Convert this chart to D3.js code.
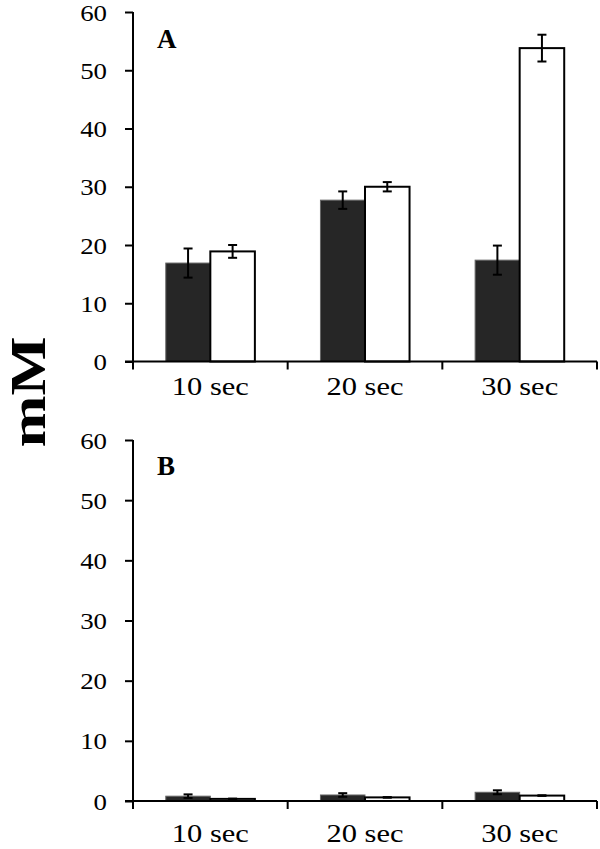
<!DOCTYPE html>
<html>
<head>
<meta charset="utf-8">
<script src="https://cdn.jsdelivr.net/npm/d3@7"></script>
<style>
  html, body { margin: 0; padding: 0; background: #fff; }
  svg { display: block; }
  text { font-family: "Liberation Serif", "Times New Roman", serif; fill: #000; }
</style>
</head>
<body>
<svg id="chart" width="600" height="849"></svg>
<script>
// ---- data ----
const categories = ["10 sec", "20 sec", "30 sec"];
const yTicks = [0, 10, 20, 30, 40, 50, 60];

const panelA_dark = [16.9, 27.7, 17.4];
const panelA_darkErr = [2.5, 1.5, 2.5];
const panelA_white = [18.9, 30.0, 53.8];
const panelA_whiteErr = [1.1, 0.8, 2.3];

const panelB_dark = [0.8, 1.0, 1.45];
const panelB_darkErr = [0.3, 0.3, 0.33];
const panelB_white = [0.35, 0.6, 0.9];
const panelB_whiteErr = [0.05, 0.05, 0.05];

const panels = [
  { label: "A", dark: panelA_dark, darkErr: panelA_darkErr, white: panelA_white, whiteErr: panelA_whiteErr,
    yTop: 12, yBottom: 361.5, labelY: 48, xLabelDy: 33.5 },
  { label: "B", dark: panelB_dark, darkErr: panelB_darkErr, white: panelB_white, whiteErr: panelB_whiteErr,
    yTop: 440, yBottom: 801, labelY: 475, xLabelDy: 40.5 }
];

const svg = d3.select("#chart");
const xLeft = 133, xRight = 597;

const x = d3.scaleBand().domain(categories).range([xLeft, xRight]).padding(0);
const xs = d3.scaleBand().domain(["dark", "white"]).range([0, x.bandwidth()])
  .paddingInner(0).paddingOuter(0.736);

panels.forEach(p => {
  const y = d3.scaleLinear().domain([0, 60]).range([p.yBottom, p.yTop]);
  const g = svg.append("g");

  const rows = categories.map((c, i) => ({
    c,
    items: [
      { s: "dark", v: p.dark[i], e: p.darkErr[i] },
      { s: "white", v: p.white[i], e: p.whiteErr[i] }
    ]
  }));

  // bars
  const grp = g.selectAll("g.cat").data(rows).join("g")
    .attr("transform", d => `translate(${x(d.c)},0)`);
  grp.selectAll("rect").data(d => d.items).join("rect")
    .attr("x", d => xs(d.s))
    .attr("width", xs.bandwidth())
    .attr("y", d => y(d.v))
    .attr("height", d => y(0) - y(d.v))
    .attr("fill", d => d.s === "dark" ? "#262626" : "#fff")
    .attr("stroke", d => d.s === "dark" ? "#666" : "#000")
    .attr("stroke-width", d => d.s === "dark" ? 1 : 2);

  // error bars
  const eb = grp.selectAll("g.err").data(d => d.items).join("g")
    .attr("transform", d => `translate(${xs(d.s) + xs.bandwidth() / 2},0)`);
  eb.append("line")
    .attr("y1", d => y(d.v + d.e)).attr("y2", d => y(Math.max(0, d.v - d.e)))
    .attr("stroke", "#000").attr("stroke-width", 2);
  eb.append("line")
    .attr("x1", -4.5).attr("x2", 4.5)
    .attr("y1", d => y(d.v + d.e)).attr("y2", d => y(d.v + d.e))
    .attr("stroke", "#000").attr("stroke-width", 2);
  eb.append("line")
    .attr("x1", -4.5).attr("x2", 4.5)
    .attr("y1", d => y(Math.max(0, d.v - d.e))).attr("y2", d => y(Math.max(0, d.v - d.e)))
    .attr("stroke", "#000").attr("stroke-width", 2);

  // y axis
  const yAxis = g.append("g").attr("transform", `translate(${xLeft},0)`)
    .call(d3.axisLeft(y).tickValues(yTicks).tickSize(8).tickPadding(0).tickFormat(d3.format("d")));
  yAxis.select(".domain").attr("stroke", "#000").attr("stroke-width", 2)
    .attr("d", `M0,${p.yTop}V${p.yBottom}`);
  yAxis.selectAll(".tick line").attr("stroke", "#000").attr("stroke-width", 2);
  yAxis.selectAll(".tick text")
    .attr("x", null).attr("dy", null)
    .attr("font-size", 24)
    .attr("text-anchor", "end")
    .attr("dominant-baseline", "central")
    .attr("transform", "translate(-26,0) scale(1.12,1)");

  // x axis
  const xAxis = g.append("g").attr("transform", `translate(0,${p.yBottom})`);
  xAxis.append("line").attr("x1", xLeft - 8).attr("x2", xRight)
    .attr("stroke", "#000").attr("stroke-width", 2);
  const bounds = [xLeft].concat(categories.map(c => x(c) + x.bandwidth()));
  xAxis.selectAll("line.tk").data(bounds).join("line").attr("class", "tk")
    .attr("x1", d => d).attr("x2", d => d).attr("y1", 0).attr("y2", 8)
    .attr("stroke", "#000").attr("stroke-width", 2);
  xAxis.selectAll("text").data(categories).join("text")
    .attr("transform", d => `translate(${x(d) + x.bandwidth() / 2},${p.xLabelDy}) scale(1.22,1)`)
    .attr("text-anchor", "middle")
    .attr("font-size", 25)
    .text(d => d);

  // panel label
  g.append("text").attr("x", 157).attr("y", p.labelY)
    .attr("font-size", 27).attr("font-weight", "bold").text(p.label);
});

// shared y label
svg.append("text")
  .attr("transform", "translate(45,392) rotate(-90) scale(1.25,1)")
  .attr("text-anchor", "middle")
  .attr("font-size", 50)
  .attr("font-weight", "bold")
  .text("mM");
</script>
</body>
</html>
